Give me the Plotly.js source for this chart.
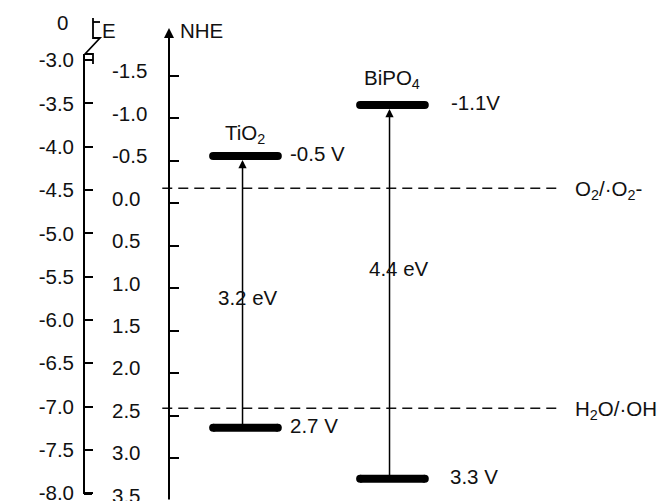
<!DOCTYPE html>
<html>
<head>
<meta charset="utf-8">
<script src="https://cdn.plot.ly/plotly-3.0.1.min.js"></script>
<style>
  html, body { margin: 0; padding: 0; background: #fff; }
  #chart { width: 666px; height: 501px; }
</style>
</head>
<body>
<div id="chart"></div>
<script>
// Band-edge potentials (V vs NHE) of the two photocatalysts
const materials = ["TiO<sub>2</sub>", "BiPO<sub>4</sub>"];
const cbPotential = [-0.5, -1.1];
const vbPotential = [2.7, 3.3];
const cbUnitGap = [" ", ""];          // spacing before the "V" unit
// Redox couples drawn as dashed reference levels
const couples = ["O<sub>2</sub>/·O<sub>2</sub>-", "H<sub>2</sub>O/·OH"];
const couplePotential = [-0.12, 2.47];
// Axis ticks
const nheTicks = [-1.5, -1.0, -0.5, 0.0, 0.5, 1.0, 1.5, 2.0, 2.5, 3.0, 3.5];
const nheLabels = ["-1.5", "-1.0", "-0.5", "0.0", "0.5", "1.0", "1.5", "2.0", "2.5", "3.0", "3.5"];
const eTicks = [-3.0, -3.5, -4.0, -4.5, -5.0, -5.5, -6.0, -6.5, -7.0, -7.5, -8.0];
const eLabels = ["-3.0", "-3.5", "-4.0", "-4.5", "-5.0", "-5.5", "-6.0", "-6.5", "-7.0", "-7.5", "-8.0"];

const W = 666, H = 501;
const FONT = { family: "Liberation Sans, Arial, Helvetica, sans-serif", size: 20.5, color: "#111" };
const px = x => x / W;            // pixel -> paper (x)
const py = y => 1 - y / H;        // pixel -> paper (y)

const HALF = 0.22;                // half length of a band-edge bar (x units)
const ARROW_DX = -0.02;           // gap arrow sits just left of the bar centre

const traces = [];
materials.forEach((m, i) => {
  [cbPotential[i], vbPotential[i]].forEach(v => {
    traces.push({
      x: [i - HALF, i + HALF], y: [v, v],
      mode: "lines+markers", type: "scatter",
      line: { color: "#000", width: 8 },
      marker: { color: "#000", size: 8, symbol: "circle" },
      hoverinfo: "skip", showlegend: false
    });
  });
});
couples.forEach((c, k) => {
  traces.push({
    x: [-0.566, 2.12], y: [couplePotential[k], couplePotential[k]],
    mode: "lines", type: "scatter",
    line: { color: "#111", width: 1.5, dash: "10px,6px" },
    hoverinfo: "skip", showlegend: false
  });
});

const annotations = [];
materials.forEach((m, i) => {
  // band gap arrow from VB up to CB
  annotations.push({
    x: i + ARROW_DX, y: cbPotential[i], ax: i + ARROW_DX, ay: vbPotential[i],
    xref: "x", yref: "y", axref: "x", ayref: "y",
    text: "", showarrow: true, arrowhead: 2, arrowsize: 1.1, arrowwidth: 1.5,
    arrowcolor: "#000", standoff: 4, startstandoff: 0
  });
  // material name above the CB bar
  annotations.push({
    x: i, y: cbPotential[i], xref: "x", yref: "y",
    text: m, showarrow: false, xanchor: "center", yanchor: "bottom", yshift: [7, 11][i],
    font: FONT
  });
  // CB / VB potential labels
  annotations.push({
    x: i + HALF, y: cbPotential[i], xref: "x", yref: "y",
    text: cbPotential[i].toFixed(1) + cbUnitGap[i] + "V",
    showarrow: false, xanchor: "left", yanchor: "middle", xshift: [10, 24][i], yshift: 2, font: FONT
  });
  annotations.push({
    x: i + HALF, y: vbPotential[i], xref: "x", yref: "y",
    text: vbPotential[i].toFixed(1) + " V",
    showarrow: false, xanchor: "left", yanchor: "middle", xshift: [10, 23][i], yshift: 2, font: FONT
  });
  // band gap value
  const gap = vbPotential[i] - cbPotential[i];
  annotations.push({
    x: i + ARROW_DX, y: (cbPotential[i] + vbPotential[i]) / 2, xref: "x", yref: "y",
    text: gap.toFixed(1) + " eV", showarrow: false, xanchor: "center", yanchor: "middle",
    xshift: [5, 9][i], yshift: [-6, 23][i], font: FONT
  });
});
couples.forEach((c, k) => {
  annotations.push({
    x: 2.12, y: couplePotential[k], xref: "x", yref: "y",
    text: c, showarrow: false, xanchor: "left", yanchor: "middle", xshift: 16, yshift: -2, font: FONT
  });
});
// axis titles and the broken-axis zero
annotations.push({ x: px(62), y: py(22), xref: "paper", yref: "paper", text: "0", showarrow: false, xanchor: "center", yanchor: "middle", font: FONT });
annotations.push({ x: px(100), y: py(30), xref: "paper", yref: "paper", text: "E", showarrow: false, xanchor: "left", yanchor: "middle", font: FONT });
annotations.push({ x: px(178), y: py(30), xref: "paper", yref: "paper", text: "NHE", showarrow: false, xanchor: "left", yanchor: "middle", font: FONT });
// NHE axis line with its arrow
annotations.push({
  x: px(169), y: py(28), xref: "paper", yref: "paper", ax: 0, ay: H - 28,
  text: "", showarrow: true, arrowhead: 2, arrowsize: 1, arrowwidth: 2, arrowcolor: "#000"
});

const shapes = [
  // E axis line
  { type: "line", xref: "paper", yref: "paper", x0: px(84), x1: px(84), y0: py(54), y1: py(494), line: { color: "#000", width: 2 } },
  // axis break mark and upper stub carrying the zero
  { type: "path", xref: "paper", yref: "paper",
    path: `M${px(93)},${py(18)} L${px(93)},${py(38)} L${px(100)},${py(38)} L${px(85)},${py(54)} L${px(93)},${py(54)} L${px(93)},${py(64)}`,
    line: { color: "#000", width: 1.8 } },
  { type: "line", xref: "paper", yref: "paper", x0: px(93), x1: px(100), y0: py(22), y1: py(22), line: { color: "#000", width: 1.8 } },
  // -8.0 end tick
  { type: "line", xref: "paper", yref: "paper", x0: px(84), x1: px(92), y0: py(494), y1: py(494), line: { color: "#000", width: 2 } }
];

const layout = {
  width: W, height: H,
  margin: { l: 0, r: 0, t: 0, b: 0 },
  paper_bgcolor: "#fff", plot_bgcolor: "#fff",
  font: FONT,
  showlegend: false,
  xaxis: { range: [-1.670, 2.861], visible: false, fixedrange: true },
  // NHE scale (carries the marks and the NHE tick labels)
  yaxis: {
    range: [3.5625, -2.3358], anchor: "free", position: px(111), side: "right",
    showline: false, showgrid: false, zeroline: false, ticks: "",
    tickmode: "array", tickvals: nheTicks, ticktext: nheLabels, tickfont: FONT,
    ticklabeloverflow: "allow"
  },
  // NHE tick marks
  yaxis2: {
    overlaying: "y", range: [3.5036, -2.3946], anchor: "free", position: px(169), side: "left",
    showline: false, showgrid: false, zeroline: false, ticks: "inside", ticklen: 9, tickwidth: 2,
    tickcolor: "#000", tickmode: "array", tickvals: nheTicks, showticklabels: false
  },
  // Absolute energy scale E (eV)
  yaxis3: {
    overlaying: "y", range: [-8.0889, -2.3077], anchor: "free", position: px(84), side: "left",
    showline: false, showgrid: false, zeroline: false, ticks: "inside", ticklen: 8, tickwidth: 2,
    tickcolor: "#000", tickmode: "array", tickvals: eTicks, ticktext: eLabels, tickfont: FONT,
    ticklabelstandoff: 10, ticklabeloverflow: "allow"
  },
  annotations: annotations,
  shapes: shapes
};

// empty traces so the overlay axes are drawn
traces.push({ x: [null], y: [null], yaxis: "y2", type: "scatter", showlegend: false, hoverinfo: "skip" });
traces.push({ x: [null], y: [null], yaxis: "y3", type: "scatter", showlegend: false, hoverinfo: "skip" });

Plotly.newPlot("chart", traces, layout, { displayModeBar: false, staticPlot: true });
</script>
</body>
</html>
